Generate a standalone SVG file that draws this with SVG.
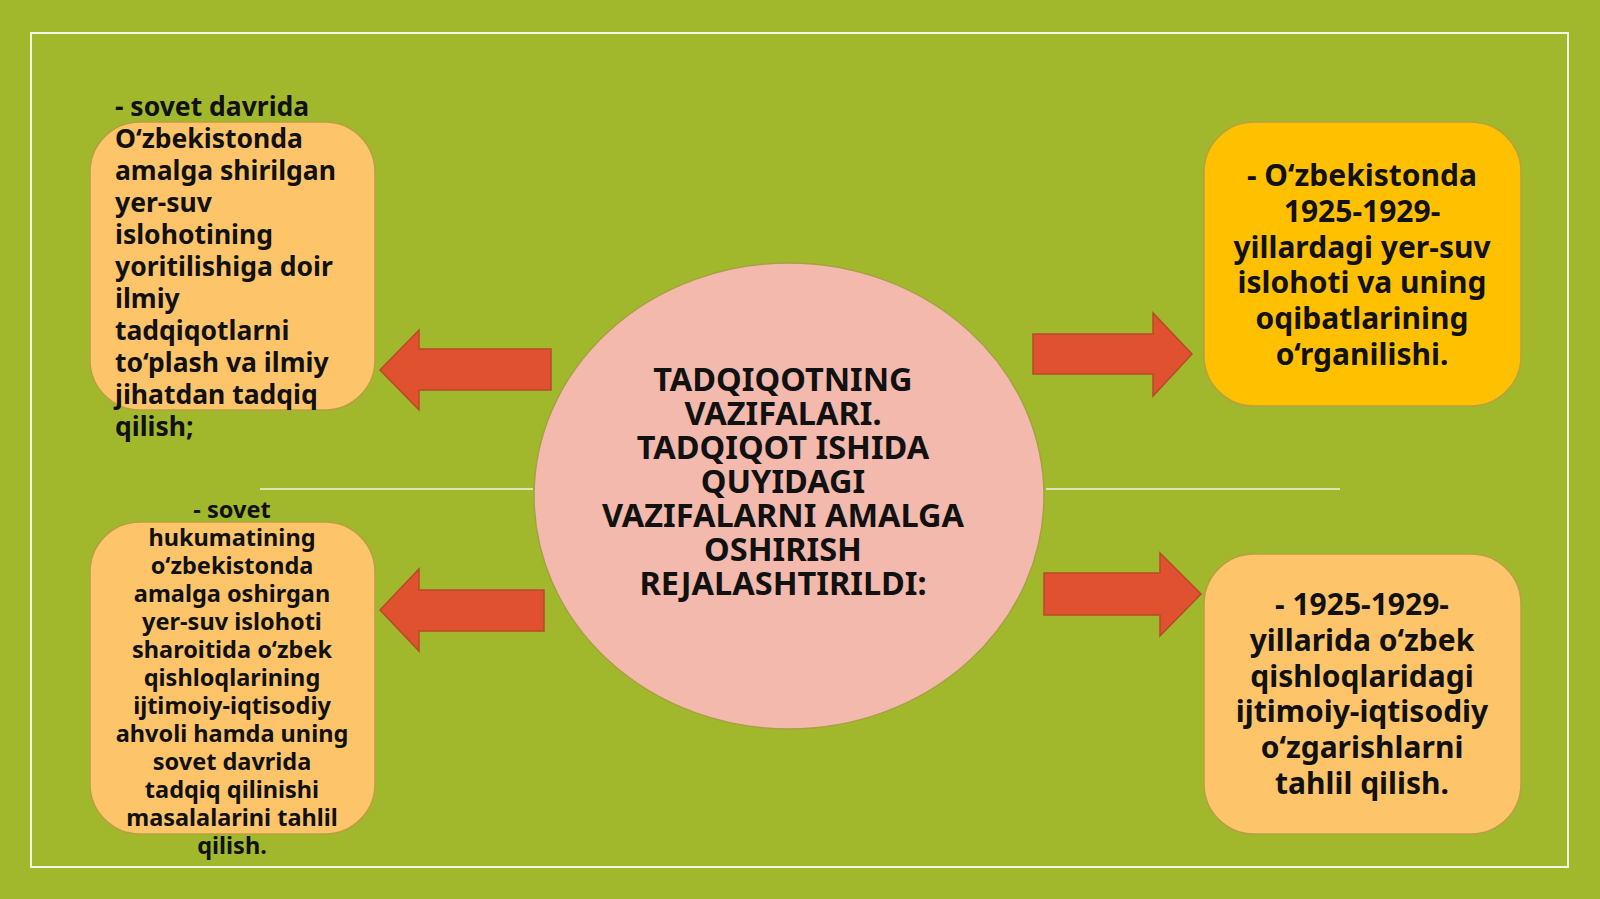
<svg xmlns="http://www.w3.org/2000/svg" width="1600" height="899" viewBox="0 0 1600 899">
<style>
text{font-family:"Noto Sans","Open Sans","DejaVu Sans",sans-serif;font-weight:bold;fill:#111}
.box{fill:#fdc46a;stroke:#b8a040;stroke-width:1.5}
.arr{fill:#e0512f;stroke:#b84a28;stroke-width:1.5}
.ln{stroke:#f2f2e0;stroke-width:1.5}
</style>
<rect width="1600" height="899" fill="#a1b82c"/>
<rect x="31" y="33" width="1537" height="834" fill="none" stroke="#f4f4e4" stroke-width="2"/>
<g id="connectors">
<line class="ln" x1="260" y1="489" x2="533" y2="489"/>
<line class="ln" x1="1046" y1="489" x2="1340" y2="489"/>
<polygon class="arr" points="551,349 419,349 419,330 380,370 419,410 419,390 551,390"/>
<polygon class="arr" points="544,590 419,590 419,569 380,610 419,651 419,631 544,631"/>
<polygon class="arr" points="1033,334 1153,334 1153,313 1192,354 1153,396 1153,374 1033,374"/>
<polygon class="arr" points="1044,573 1160,573 1160,553 1201,594 1160,636 1160,615 1044,615"/>
</g>
<g id="center">
<ellipse cx="789" cy="496" rx="255" ry="233" fill="#f2b9ac" stroke="#a8a040" stroke-width="1.5"/>
<text font-size="32.5" text-anchor="middle"><tspan x="783" y="391">TADQIQOTNING</tspan><tspan x="783" y="425">VAZIFALARI.</tspan><tspan x="783" y="459">TADQIQOT ISHIDA</tspan><tspan x="783" y="493">QUYIDAGI</tspan><tspan x="783" y="527">VAZIFALARNI AMALGA</tspan><tspan x="783" y="561">OSHIRISH</tspan><tspan x="783" y="595">REJALASHTIRILDI:</tspan></text>
</g>
<g id="topleft">
<rect class="box" x="90" y="122" width="285" height="288" rx="50"/>
<text font-size="26.5"><tspan x="115" y="116">- sovet davrida</tspan><tspan x="115" y="148">O‘zbekistonda</tspan><tspan x="115" y="180">amalga shirilgan</tspan><tspan x="115" y="212">yer-suv</tspan><tspan x="115" y="244">islohotining</tspan><tspan x="115" y="276">yoritilishiga doir</tspan><tspan x="115" y="308">ilmiy</tspan><tspan x="115" y="340">tadqiqotlarni</tspan><tspan x="115" y="372">to‘plash va ilmiy</tspan><tspan x="115" y="404">jihatdan tadqiq</tspan><tspan x="115" y="436">qilish;</tspan></text>
</g>
<g id="bottomleft">
<rect class="box" x="90" y="522" width="285" height="312" rx="50"/>
<text font-size="23.5" text-anchor="middle"><tspan x="232" y="518">- sovet</tspan><tspan x="232" y="546">hukumatining</tspan><tspan x="232" y="574">o‘zbekistonda</tspan><tspan x="232" y="602">amalga oshirgan</tspan><tspan x="232" y="630">yer-suv islohoti</tspan><tspan x="232" y="658">sharoitida o‘zbek</tspan><tspan x="232" y="686">qishloqlarining</tspan><tspan x="232" y="714">ijtimoiy-iqtisodiy</tspan><tspan x="232" y="742">ahvoli hamda uning</tspan><tspan x="232" y="770">sovet davrida</tspan><tspan x="232" y="798">tadqiq qilinishi</tspan><tspan x="232" y="826">masalalarini tahlil</tspan><tspan x="232" y="854">qilish.</tspan></text>
</g>
<g id="topright">
<rect x="1204" y="122" width="317" height="284" rx="50" fill="#ffc000" stroke="#b8a040" stroke-width="1.5"/>
<text font-size="30" text-anchor="middle"><tspan x="1362" y="186">- O‘zbekistonda</tspan><tspan x="1362" y="222">1925-1929-</tspan><tspan x="1362" y="258">yillardagi yer-suv</tspan><tspan x="1362" y="293">islohoti va uning</tspan><tspan x="1362" y="329">oqibatlarining</tspan><tspan x="1362" y="365">o‘rganilishi.</tspan></text>
</g>
<g id="bottomright">
<rect class="box" x="1204" y="554" width="317" height="280" rx="50"/>
<text font-size="30" text-anchor="middle"><tspan x="1362" y="615">- 1925-1929-</tspan><tspan x="1362" y="651">yillarida o‘zbek</tspan><tspan x="1362" y="687">qishloqlaridagi</tspan><tspan x="1362" y="722">ijtimoiy-iqtisodiy</tspan><tspan x="1362" y="758">o‘zgarishlarni</tspan><tspan x="1362" y="794">tahlil qilish.</tspan></text>
</g>
</svg>
